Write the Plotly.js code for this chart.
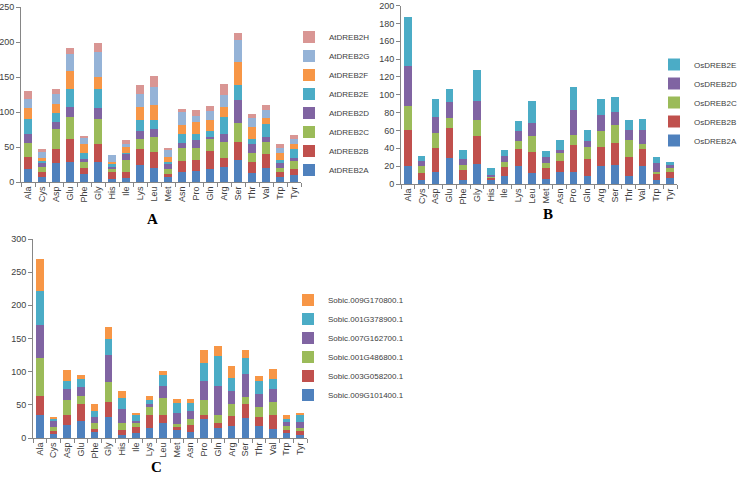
<!DOCTYPE html>
<html>
<head>
<meta charset="utf-8">
<script src="https://cdn.plot.ly/plotly-3.0.1.min.js"></script>
<style>
html,body{margin:0;padding:0;background:#fff;}
#chart{width:738px;height:477px;}
</style>
</head>
<body>
<div id="chart"></div>
<script>
const aminoAcids = ["Ala","Cys","Asp","Glu","Phe","Gly","His","Ile","Lys","Leu","Met","Asn","Pro","Gln","Arg","Ser","Thr","Val","Trp","Tyr"];

// Panel A (Arabidopsis)
const atNames = ["AtDREB2A","AtDREB2B","AtDREB2C","AtDREB2D","AtDREB2E","AtDREB2F","AtDREB2G","AtDREB2H"];
const AtDREB2A = [18,7,27,29,11,29,5,6,24,20,7,14,16,18,21,31,13,20,7,10];
const AtDREB2B = [18,8,20,32,9,25,9,8,23,23,5,16,16,26,14,26,16,20,7,9];
const AtDREB2C = [20,6,29,32,9,36,5,17,15,22,6,18,16,17,22,28,12,17,6,11];
const AtDREB2D = [13,6,10,14,4,16,3,9,11,11,8,8,12,4,12,32,13,8,7,5];
const AtDREB2E = [21,3,12,26,8,27,4,2,15,12,3,12,9,8,24,21,7,18,5,12];
const AtDREB2F = [16,4,13,26,14,17,3,8,19,22,7,13,17,15,14,33,17,8,9,8];
const AtDREB2G = [13,9,15,24,8,36,9,5,19,26,10,19,9,14,17,32,14,12,8,6];
const AtDREB2H = [11,4,7,8,3,13,1,5,13,15,2,4,8,6,16,10,5,7,5,6];

// Panel B (rice)
const osNames = ["OsDREB2A","OsDREB2B","OsDREB2C","OsDREB2D","OsDREB2E"];
const OsDREB2A = [20,5,14,29,5,22,4,9,20,12,6,14,14,9,20,21,9,20,4,7];
const OsDREB2B = [41,7,26,34,11,32,3,10,19,24,12,12,30,19,21,25,21,19,7,7];
const OsDREB2C = [26,8,17,11,5,18,1,6,9,18,5,9,11,13,18,20,19,6,3,4];
const OsDREB2D = [45,6,18,18,7,21,2,6,11,14,7,3,28,7,18,15,11,16,9,3];
const OsDREB2E = [55,5,20,15,10,35,8,7,12,25,7,11,26,13,18,17,12,12,7,4];

// Panel C (sorghum)
const sbNames = ["Sobic.009G101400.1","Sobic.003G058200.1","Sobic.001G486800.1","Sobic.007G162700.1","Sobic.001G378900.1","Sobic.009G170800.1"];
const Sb009G101400 = [35,6,20,25,9,31,5,7,15,22,12,9,28,15,18,30,18,13,7,5];
const Sb003G058200 = [28,4,15,27,5,23,7,10,20,12,5,10,6,8,15,21,13,22,5,6];
const Sb001G486800 = [58,7,22,11,9,31,11,5,12,26,4,10,23,12,18,11,15,19,6,4];
const Sb007G162700 = [50,8,17,14,9,40,20,3,5,19,16,11,29,43,20,35,20,20,6,9];
const Sb001G378900 = [50,4,12,12,9,25,18,9,6,16,16,13,27,45,20,23,20,15,4,10];
const Sb009G170800 = [49,3,16,6,10,18,10,3,6,6,6,6,19,15,17,12,7,15,6,4];

const colors8 = ["#4F81BD","#C0504D","#9BBB59","#8064A2","#4BACC6","#F79646","#95B3D7","#D99694"];

const traces = [];
[AtDREB2A,AtDREB2B,AtDREB2C,AtDREB2D,AtDREB2E,AtDREB2F,AtDREB2G,AtDREB2H].forEach((v,i)=>{
  traces.push({type:"bar", x:aminoAcids, y:v, name:atNames[i], xaxis:"x", yaxis:"y", legend:"legend",
    marker:{color:colors8[i]}});
});
[OsDREB2A,OsDREB2B,OsDREB2C,OsDREB2D,OsDREB2E].forEach((v,i)=>{
  traces.push({type:"bar", x:aminoAcids, y:v, name:osNames[i], xaxis:"x2", yaxis:"y2", legend:"legend2",
    marker:{color:colors8[i]}});
});
[Sb009G101400,Sb003G058200,Sb001G486800,Sb007G162700,Sb001G378900,Sb009G170800].forEach((v,i)=>{
  traces.push({type:"bar", x:aminoAcids, y:v, name:sbNames[i], xaxis:"x3", yaxis:"y3", legend:"legend3",
    marker:{color:colors8[i]}});
});

const tickFont = {family:"Liberation Sans, Arial, sans-serif", size:9, color:"#404040"};
const xCommon = {type:"category", tickangle:-90, showline:true, linecolor:"#868686", linewidth:1,
  ticks:"outside", tickson:"boundaries", ticklen:4, tickcolor:"#868686", tickfont:tickFont,
  showgrid:false, zeroline:false, fixedrange:true, automargin:false};
const yCommon = {showline:true, linecolor:"#868686", linewidth:1, ticks:"outside", ticklen:4,
  tickcolor:"#868686", tickfont:tickFont, showgrid:false, zeroline:false, fixedrange:true, automargin:false};
const legFont = {family:"Liberation Sans, Arial, sans-serif", size:8, color:"#404040"};
const panelFont = {family:"Liberation Serif, Times New Roman, serif", size:15, color:"#000"};

const layout = {
  width:738, height:477,
  margin:{l:0,r:0,t:0,b:0,pad:0,autoexpand:false},
  paper_bgcolor:"#fff", plot_bgcolor:"#fff",
  barmode:"stack", bargap:0.45,
  showlegend:true,
  xaxis: Object.assign({}, xCommon, {domain:[21/738, 301/738], anchor:"y"}),
  yaxis: Object.assign({}, yCommon, {domain:[1-182/477, 1-7/477], range:[0,250], dtick:50, anchor:"x"}),
  xaxis2: Object.assign({}, xCommon, {domain:[401/738, 677/738], anchor:"y2"}),
  yaxis2: Object.assign({}, yCommon, {domain:[1-184/477, 1-5.5/477], range:[0,200], tick0:0, dtick:20, anchor:"x2"}),
  xaxis3: Object.assign({}, xCommon, {domain:[33/738, 307/738], anchor:"y3"}),
  yaxis3: Object.assign({}, yCommon, {domain:[1-438/477, 1-239/477], range:[0,300], dtick:50, anchor:"x3"}),
  legend: {x:289/738, y:1-22.5/477, xanchor:"left", yanchor:"top", traceorder:"reversed", font:legFont, bgcolor:"rgba(0,0,0,0)", itemwidth:30},
  legend2: {x:654/738, y:1-50/477, xanchor:"left", yanchor:"top", traceorder:"reversed", font:legFont, bgcolor:"rgba(0,0,0,0)", itemwidth:30},
  legend3: {x:288/738, y:1-285.5/477, xanchor:"left", yanchor:"top", traceorder:"reversed", font:legFont, bgcolor:"rgba(0,0,0,0)", itemwidth:30},
  annotations:[
    {text:"<b>A</b>", x:152/738, y:1-219/477, xref:"paper", yref:"paper", xanchor:"center", yanchor:"middle", showarrow:false, font:panelFont},
    {text:"<b>B</b>", x:548/738, y:1-214/477, xref:"paper", yref:"paper", xanchor:"center", yanchor:"middle", showarrow:false, font:panelFont},
    {text:"<b>C</b>", x:156/738, y:1-467/477, xref:"paper", yref:"paper", xanchor:"center", yanchor:"middle", showarrow:false, font:panelFont}
  ]
};

Plotly.newPlot("chart", traces, layout, {displayModeBar:false, staticPlot:true});
</script>
</body>
</html>
